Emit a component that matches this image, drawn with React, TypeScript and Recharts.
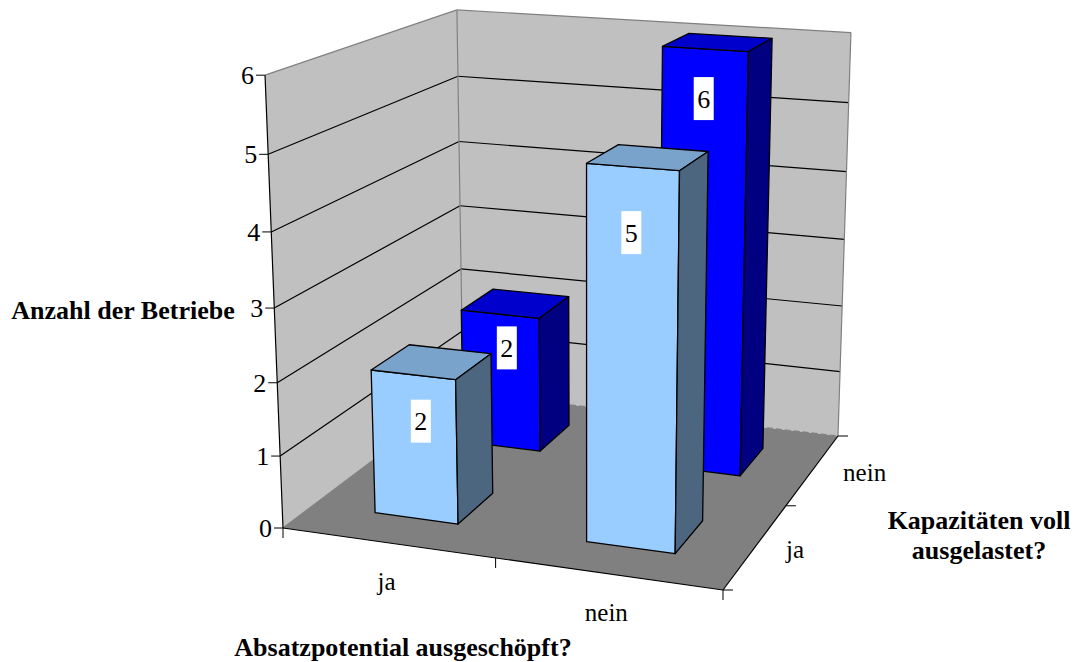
import React from "react";
import { BarChart, Bar, XAxis, YAxis } from "recharts";

// Absatzpotential ausgeschöpft? (Kategorien) / Kapazitäten voll ausgelastet? (Reihen)
const categories = ["ja", "nein"];
const depthLabels = ["ja", "nein"];
const kapazitaetJa = [2, 5];
const kapazitaetNein = [2, 6];
const valueTicks = [0, 1, 2, 3, 4, 5, 6];

const W = 1074;
const H = 662;
const BAR_W = W * 0.2;
const SERIF = '"Liberation Serif", "Times New Roman", serif';

const chartData = categories.map((name, i) => ({
  name,
  ja: kapazitaetJa[i],
  nein: kapazitaetNein[i],
}));

// Perspektive: u = Kategorie 0..1, v = Tiefe 0..1, t = Höhe 0..1
function project(u: number, v: number, t: number): [number, number] {
  const w = -0.065 * u + 0.1933 * v - 0.0556 * t + 1;
  const x = 393 * u + 269.5 * v - 32.7 * t + 283;
  const y = 23.65 * u - 59.7 * v - 457 * t + 528;
  return [x / w, y / w];
}

const pts = (list: [number, number][]) => list.map((p) => p.join(",")).join(" ");

function Edge({ a, b, stroke = "#000", dash }: { a: [number, number]; b: [number, number]; stroke?: string; dash?: string }) {
  return <line x1={a[0]} y1={a[1]} x2={b[0]} y2={b[1]} stroke={stroke} strokeWidth={1.2} strokeDasharray={dash} />;
}

function Scene() {
  const maxTick = valueTicks[valueTicks.length - 1];
  const A = project(0, 0, 0);
  const B = project(1, 0, 0);
  const C = project(1, 1, 0);
  const D = project(0, 1, 0);
  const E = project(0, 0, 1);
  const F = project(0, 1, 1);
  const G = project(1, 1, 1);
  return (
    <g>
      <polygon points={pts([A, E, F, D])} fill="#C0C0C0" />
      <polygon points={pts([D, F, G, C])} fill="#C0C0C0" />
      <polygon points={pts([A, B, C, D])} fill="#808080" />
      {valueTicks.slice(1, -1).map((tick) => {
        const t = tick / maxTick;
        return (
          <g key={tick}>
            <Edge a={project(0, 0, t)} b={project(0, 1, t)} />
            <Edge a={project(0, 1, t)} b={project(1, 1, t)} />
          </g>
        );
      })}
      <Edge a={E} b={F} stroke="#808080" />
      <Edge a={F} b={G} stroke="#808080" />
      <Edge a={F} b={D} stroke="#808080" />
      <Edge a={G} b={C} stroke="#808080" />
      <Edge a={A} b={D} stroke="#808080" />
      <Edge a={D} b={C} stroke="#808080" dash="6 3" />
      <Edge a={A} b={E} />
      <Edge a={A} b={B} />
      <Edge a={B} b={C} />
      {/* Striche an den Bodenkanten */}
      {[0, 0.5, 1].map((u) => {
        const p = project(u, 0, 0);
        return <line key={u} x1={p[0]} y1={p[1]} x2={p[0]} y2={p[1] + 10} stroke="#000" strokeWidth={1} />;
      })}
      {[0, 0.5, 1].map((v) => {
        const p = project(1, v, 0);
        return <line key={v} x1={p[0]} y1={p[1]} x2={p[0] + 10} y2={p[1]} stroke="#000" strokeWidth={1} />;
      })}
      {categories.map((c, i) => {
        const p = project((i + 0.5) / categories.length, 0, 0);
        return (
          <text key={c} x={p[0] - 1} y={p[1] + 47} textAnchor="middle" fontFamily={SERIF} fontSize={25} fill="#000">
            {c}
          </text>
        );
      })}
      {depthLabels.map((c, i) => {
        const p = project(1, (i + 0.5) / depthLabels.length, 0);
        return (
          <text key={c} x={p[0] + 30} y={p[1] + 12} textAnchor="start" fontFamily={SERIF} fontSize={25} fill="#000">
            {c}
          </text>
        );
      })}
      <g fontFamily={SERIF} fontSize={26} fontWeight="bold" fill="#000" textAnchor="middle">
        <text x={123} y={319}>Anzahl der Betriebe</text>
        <text x={403} y={656}>Absatzpotential ausgeschöpft?</text>
        <text x={979} y={529}>Kapazitäten voll</text>
        <text x={979} y={559}>ausgelastet?</text>
      </g>
    </g>
  );
}

function ValueTick(props: any) {
  const t = props.payload.value / valueTicks[valueTicks.length - 1];
  const p = project(0, 0, t);
  return (
    <g>
      <line x1={p[0] - 9} y1={p[1]} x2={p[0]} y2={p[1]} stroke="#000" strokeWidth={1} />
      <text x={p[0] - 11} y={p[1] + 9} textAnchor="end" fontFamily={SERIF} fontSize={26} fill="#000">
        {props.payload.value}
      </text>
    </g>
  );
}

// Säule als Quader: x/width/height kommen aus den Skalen der Bar
function Prism(props: any) {
  const { x, width, height, front, top, side, v0, v1, labelScale, labelDrop, dataKey, payload } = props;
  const u0 = x / W;
  const u1 = (x + width) / W;
  const t = height / H;
  const fl = project(u0, v0, t);
  const fr = project(u1, v0, t);
  const bl = project(u0, v1, t);
  const br = project(u1, v1, t);
  const gl = project(u0, v0, 0);
  const gr = project(u1, v0, 0);
  const gb = project(u1, v1, 0);
  const uc = 0.5 + ((u0 + u1) / 2 - 0.5) * 0.965;
  const lab = project(uc, v0, t * labelScale - labelDrop);
  const lineProps = { stroke: "#000", strokeWidth: 1.3, strokeLinejoin: "round" as const };
  return (
    <g>
      <polygon points={pts([fl, fr, gr, gl])} fill={front} {...lineProps} />
      <polygon points={pts([fl, bl, br, fr])} fill={top} {...lineProps} />
      <polygon points={pts([fr, br, gb, gr])} fill={side} {...lineProps} />
      <rect x={lab[0] - 7} y={lab[1] - 21.5} width={20} height={43} fill="#fff" />
      <text x={lab[0] + 3} y={lab[1] + 9} textAnchor="middle" fontFamily={SERIF} fontSize={26} fill="#000">
        {payload[dataKey]}
      </text>
    </g>
  );
}

export default function App() {
  return (
    <div style={{ position: "absolute", left: 0, top: 0, width: W, height: H, background: "#fff", overflow: "hidden" }}>
      <BarChart
        width={W}
        height={H}
        data={chartData}
        margin={{ top: 0, right: 0, bottom: 0, left: 0 }}
        barSize={BAR_W}
        barGap={-BAR_W}
      >
        <XAxis dataKey="name" hide />
        <YAxis domain={[0, 6]} ticks={valueTicks} interval={0} mirror axisLine={false} tickLine={false} tick={ValueTick} />
        <Scene />
        <Bar
          dataKey="nein"
          isAnimationActive={false}
          shape={(p: any) => (
            <Prism {...p} dataKey="nein" front="#0000FF" top="#0000CC" side="#000080" v0={0.65} v1={0.85} labelScale={0.955} labelDrop={0.068} />
          )}
        />
        <Bar
          dataKey="ja"
          isAnimationActive={false}
          shape={(p: any) => (
            <Prism {...p} dataKey="ja" front="#99CCFF" top="#7AA3CC" side="#4D6680" v0={0.15} v1={0.35} labelScale={0.933} labelDrop={0.083} />
          )}
        />
      </BarChart>
    </div>
  );
}
